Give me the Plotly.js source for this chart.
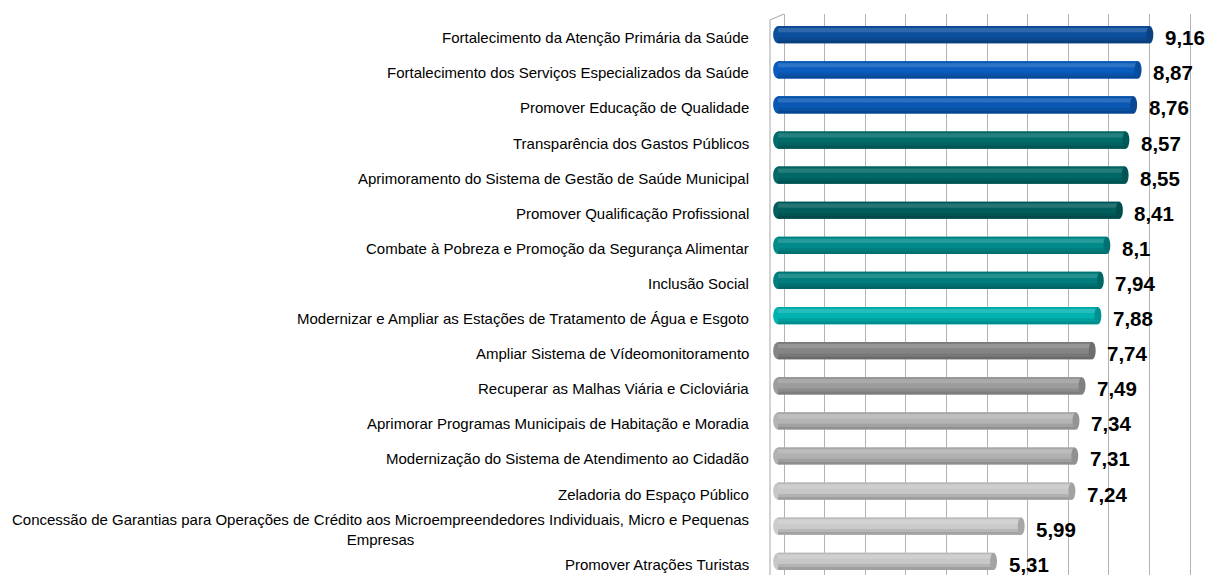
<!DOCTYPE html>
<html><head><meta charset="utf-8">
<script src="https://cdn.plot.ly/plotly-3.0.1.min.js"></script>
<style>html,body{margin:0;padding:0;background:#fff;}#chart{width:1209px;height:575px;}</style>
</head><body><div id="chart"></div>
<script>
const categories = [
  "Fortalecimento da Atenção Primária da Saúde",
  "Fortalecimento dos Serviços Especializados da Saúde",
  "Promover Educação de Qualidade",
  "Transparência dos Gastos Públicos",
  "Aprimoramento do Sistema de Gestão de Saúde Municipal",
  "Promover Qualificação Profissional",
  "Combate à Pobreza e Promoção da Segurança Alimentar",
  "Inclusão Social",
  "Modernizar e Ampliar as Estações de Tratamento de Água e Esgoto",
  "Ampliar Sistema de Vídeomonitoramento",
  "Recuperar as Malhas Viária e Cicloviária",
  "Aprimorar Programas Municipais de Habitação e Moradia",
  "Modernização do Sistema de Atendimento ao Cidadão",
  "Zeladoria do Espaço Público",
  "Concessão de Garantias para Operações de Crédito aos Microempreendedores Individuais, Micro e Pequenas<br>Empresas",
  "Promover Atrações Turistas"
];
const values = [9.16, 8.87, 8.76, 8.57, 8.55, 8.41, 8.1, 7.94, 7.88, 7.74, 7.49, 7.34, 7.31, 7.24, 5.99, 5.31];
const barColors = [
  "#0c4f9c", "#0a5dbd", "#0a58b4",
  "#006c6a", "#006866", "#005e5c",
  "#008b8a", "#007e7d", "#00b2b0",
  "#858585", "#9c9c9c", "#b4b4b4", "#b1b1b1", "#c6c6c6", "#cbcbcb", "#c7c7c7"
];

function mix(hex, target, t) {
  const n = parseInt(hex.slice(1), 16);
  const r = (n >> 16) & 255, g = (n >> 8) & 255, b = n & 255;
  const f = c => Math.round(c + (target - c) * t);
  return "rgb(" + f(r) + "," + f(g) + "," + f(b) + ")";
}
const lighten = (c, t) => mix(c, 255, t);
const darken = (c, t) => mix(c, 0, t);

const BW = 0.49;
const half = BW / 2;
const base = {
  type: "bar", orientation: "h", x: values, y: categories,
  width: BW, marker: { color: barColors, line: { width: 0 } },
  hoverinfo: "none", showlegend: false
};
function band(off, w, colorFn) {
  return {
    type: "bar", orientation: "h", x: values, y: categories,
    width: w, offset: off,
    marker: { color: barColors.map(colorFn), line: { width: 0 } },
    hoverinfo: "none", showlegend: false
  };
}
const traces = [
  base,
  band(-half, 0.04, c => darken(c, 0.08)),
  band(-0.19, 0.12, c => lighten(c, 0.14)),
  band(0.08, 0.085, c => darken(c, 0.1)),
  band(0.165, 0.08, c => darken(c, 0.2)),
  { type: "scatter", x: [], y: [], xaxis: "x2", yaxis: "y", showlegend: false, hoverinfo: "none" }
];

const shapes = [];
values.forEach((v, i) => {
  shapes.push({
    type: "circle", xref: "x", yref: "y", layer: "between",
    x0: -0.12, x1: 0.12, y0: i - half, y1: i + half,
    fillcolor: barColors[i], line: { width: 0 }
  });
  shapes.push({
    type: "circle", xref: "x", yref: "y", layer: "above",
    x0: v - 0.085, x1: v + 0.085, y0: i - half, y1: i + half,
    fillcolor: darken(barColors[i], 0.18), line: { width: 0 }
  });
});
// left wall
shapes.push({ type: "line", xref: "paper", yref: "paper", x0: 0, x1: 0, y0: 0, y1: 1 - 6 / 561,
  line: { color: "#a6a6a6", width: 1 } });
shapes.push({ type: "line", xref: "paper", yref: "paper", x0: 0, x1: 14 / 423, y0: 1 - 6 / 561, y1: 1,
  line: { color: "#a6a6a6", width: 1 } });

const annotations = [];
categories.forEach((c, i) => {
  annotations.push({
    xref: "paper", yref: "y", x: -0.046, y: i, xanchor: "right", yanchor: "middle",
    text: c, showarrow: false, align: "center", yshift: -3,
    font: { family: "Liberation Sans, Arial, sans-serif", size: 15, color: "#000" }
  });
  annotations.push({
    xref: "x", yref: "y", x: values[i], y: i, xanchor: "left", yanchor: "middle",
    text: String(values[i]).replace(".", ","), showarrow: false, xshift: 13, yshift: -3,
    font: { family: "Liberation Sans, Arial, sans-serif", size: 20.5, color: "#000", weight: "bold" }
  });
});

const layout = {
  width: 1209, height: 575,
  margin: { l: 770, r: 16, t: 14, b: 0, pad: 0 },
  paper_bgcolor: "#ffffff", plot_bgcolor: "rgba(0,0,0,0)",
  barmode: "overlay",
  showlegend: false,
  xaxis: { range: [-0.197, 10.222], showgrid: false, zeroline: false, showticklabels: false,
    showline: false, ticks: "", fixedrange: true },
  xaxis2: { overlaying: "x", anchor: "y", side: "bottom", range: [-0.345, 10.074], dtick: 1, tick0: 0,
    showgrid: true, gridcolor: "#b3b3b3", gridwidth: 1, zeroline: false, showticklabels: false,
    showline: false, ticks: "" },
  yaxis: { type: "category", categoryorder: "array", categoryarray: categories,
    range: [15.39, -0.59], showgrid: false, zeroline: false, showticklabels: false,
    showline: false, ticks: "", fixedrange: true },
  shapes: shapes,
  annotations: annotations
};

Plotly.newPlot("chart", traces, layout, { displayModeBar: false, staticPlot: true });
</script>
</body></html>
